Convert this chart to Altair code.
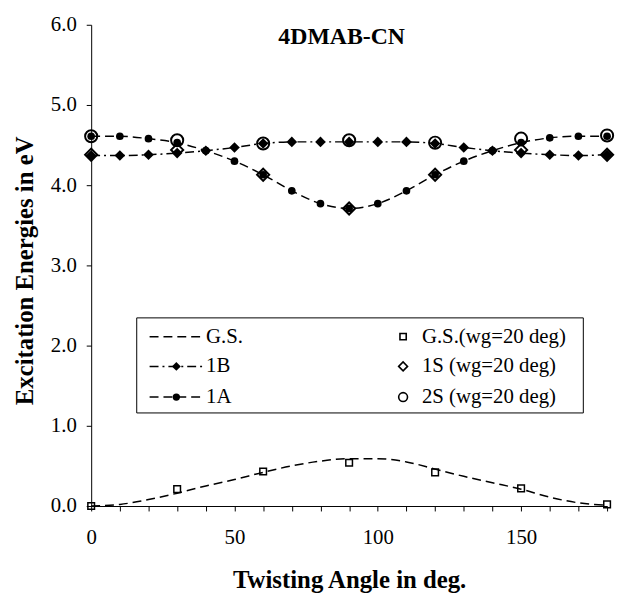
import altair as alt
import pandas as pd

# ---- data ----
angles = list(range(0, 181, 10))
gs_curve = [0.00, 0.02, 0.08, 0.16, 0.25, 0.33, 0.42, 0.50, 0.56, 0.59,
            0.59, 0.55, 0.46, 0.37, 0.29, 0.21, 0.11, 0.04, 0.01]
e_1b = [4.37, 4.37, 4.38, 4.40, 4.43, 4.47, 4.52, 4.54, 4.54, 4.54,
        4.54, 4.54, 4.52, 4.47, 4.43, 4.40, 4.38, 4.37, 4.38]
e_1a = [4.61, 4.61, 4.58, 4.53, 4.43, 4.30, 4.13, 3.93, 3.77, 3.71,
        3.77, 3.93, 4.13, 4.30, 4.43, 4.53, 4.59, 4.61, 4.61]
angles_wg = [0, 30, 60, 90, 120, 150, 180]
gs_wg = [0.00, 0.21, 0.43, 0.54, 0.42, 0.22, 0.02]
s1_wg = [4.38, 4.44, 4.13, 3.71, 4.13, 4.44, 4.38]
s2_wg = [4.61, 4.56, 4.52, 4.56, 4.53, 4.58, 4.62]
y_ticks = [0, 1, 2, 3, 4, 5, 6]
legend_lines = ["G.S.", "1B", "1A"]
legend_points = ["G.S.(wg=20 deg)", "1S (wg=20 deg)", "2S (wg=20 deg)"]
chart_title = "4DMAB-CN"

FONT = "Liberation Serif"
W, H = 521, 486
LW = 1.5

curve_df = pd.DataFrame({"angle": angles, "gs": gs_curve, "b": e_1b, "a": e_1a})
wg_df = pd.DataFrame({"angle": angles_wg, "gs": gs_wg, "s1": s1_wg, "s2": s2_wg})

xscale = alt.Scale(domain=[0, 180], nice=False, zero=False)
yscale = alt.Scale(domain=[0, 6], nice=False, zero=False)
xaxis = alt.Axis(values=angles, labelExpr="datum.value % 50 == 0 ? datum.label : ''",
                 title="Twisting Angle in deg.", tickSize=5, labelPadding=16,
                 labelFont=FONT, titleFont=FONT,
                 labelFontSize=21, titleFontSize=25, titleFontWeight="bold",
                 titleX=W / 2, titleY=74, titleBaseline="middle", titleAlign="center",
                 labelFlush=False, labelOverlap=False)
yaxis = alt.Axis(values=y_ticks, format=".1f", title="Excitation Energies in eV",
                 tickSize=5, labelPadding=10, labelFontSize=21, titleFontSize=25,
                 labelFont=FONT, titleFont=FONT,
                 titleFontWeight="bold", titleX=-67, titleY=H / 2 + 5,
                 titleBaseline="middle", titleAlign="center", titleAngle=-90,
                 labelFlush=False, labelOverlap=False)


def enc(field):
    return dict(x=alt.X("angle:Q", scale=xscale, axis=xaxis),
                y=alt.Y(f"{field}:Q", scale=yscale, axis=yaxis))


base_c = alt.Chart(curve_df)
base_w = alt.Chart(wg_df)

gs_line = base_c.mark_line(color="black", strokeWidth=LW, strokeDash=[9, 5],
                           interpolate="monotone").encode(**enc("gs"))
b_line = base_c.mark_line(color="black", strokeWidth=LW, strokeDash=[9, 4, 2, 4],
                          interpolate="monotone").encode(**enc("b"))
a_line = base_c.mark_line(color="black", strokeWidth=LW, strokeDash=[9, 5],
                          interpolate="monotone").encode(**enc("a"))
b_pts = base_c.mark_point(shape="diamond", filled=True, color="black", size=115,
                          opacity=1).encode(**enc("b"))
gs_sq = base_w.mark_point(shape="square", filled=False, color="black", size=45,
                          strokeWidth=1.5, opacity=1).encode(**enc("gs"))
s1_pts = base_w.mark_point(shape="diamond", filled=False, color="black", size=150,
                           strokeWidth=2, opacity=1).encode(**enc("s1"))
s2_pts = base_w.mark_point(shape="circle", filled=False, color="black", size=150,
                           strokeWidth=2, opacity=1).encode(**enc("s2"))
a_pts = base_c.mark_point(shape="circle", filled=True, color="black", size=60,
                          opacity=1).encode(**enc("a"))

one = alt.Data(values=[{"k": 1}])

title_mark = alt.Chart(one).mark_text(text=chart_title, font=FONT, fontSize=24,
                                      fontWeight="bold", color="black",
                                      baseline="middle", align="center").encode(
    x=alt.value(253), y=alt.value(12))

# ---- legend box (drawn by hand: two columns, line + marker samples) ----
box = alt.Chart(one).mark_rect(fill="white", stroke="black", strokeWidth=1).encode(
    x=alt.value(46), x2=alt.value(497), y=alt.value(296), y2=alt.value(392))

rows_y = [315, 345, 376]
dashes = [[9, 5], [9, 4, 2, 4], [9, 5]]
leg = [box]
for i, lab in enumerate(legend_lines):
    leg.append(alt.Chart(one).mark_rule(color="black", strokeWidth=LW,
                                        strokeDash=dashes[i]).encode(
        x=alt.value(59), x2=alt.value(113), y=alt.value(rows_y[i])))
    leg.append(alt.Chart(one).mark_text(text=lab, font=FONT, fontSize=21, color="black",
                                        align="left", baseline="middle").encode(
        x=alt.value(116), y=alt.value(rows_y[i])))
leg.append(alt.Chart(one).mark_point(shape="diamond", filled=True, color="black",
                                     size=80, opacity=1).encode(
    x=alt.value(86), y=alt.value(rows_y[1])))
leg.append(alt.Chart(one).mark_point(shape="circle", filled=True, color="black",
                                     size=55, opacity=1).encode(
    x=alt.value(86), y=alt.value(rows_y[2])))

pt_shapes = ["square", "diamond", "circle"]
pt_sizes = [40, 80, 80]
for i, lab in enumerate(legend_points):
    leg.append(alt.Chart(one).mark_point(shape=pt_shapes[i], filled=False, color="black",
                                         size=pt_sizes[i], strokeWidth=1.6,
                                         opacity=1).encode(
        x=alt.value(315), y=alt.value(rows_y[i])))
    leg.append(alt.Chart(one).mark_text(text=lab, font=FONT, fontSize=21, color="black",
                                        align="left", baseline="middle").encode(
        x=alt.value(334), y=alt.value(rows_y[i])))

chart = alt.layer(
    gs_line, b_line, a_line, b_pts, gs_sq, s1_pts, s2_pts, a_pts, title_mark, *leg
).properties(
    width=W, height=H,
    autosize=alt.AutoSizeParams(type="none"),
    padding={"left": 84, "top": 14, "right": 8, "bottom": 95},
).configure_view(stroke=None).configure_axis(
    labelFont=FONT, titleFont=FONT, labelColor="black", titleColor="black",
    domainColor="black", tickColor="black", domainWidth=1, tickWidth=1, grid=False
).configure_text(font=FONT)

chart.save("out.html", embed_options={"renderer": "svg", "actions": False})
